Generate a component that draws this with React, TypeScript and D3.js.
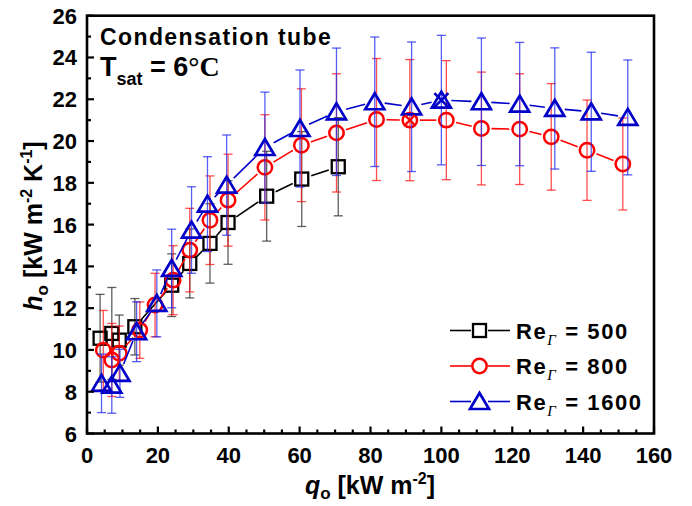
import React from 'react';
import * as d3 from 'd3';

const W = 692;
const H = 506;

// Re = 500
const q500 = [3.7, 7.0, 9.1, 13.5, 23.9, 29.0, 34.7, 39.8, 50.7, 60.6, 70.9];
const h500 = [10.56, 10.79, 10.47, 11.11, 13.1, 14.14, 15.1, 16.1, 17.36, 18.18, 18.77];
const e500 = [2.1, 2.2, 1.2, 1.35, 1.5, 1.65, 1.9, 2.0, 2.15, 2.27, 2.35];

// Re = 800
const q800 = [4.6, 7.0, 9.1, 14.9, 19.2, 24.3, 29.0, 34.7, 39.8, 50.2, 60.5, 70.4, 81.7, 91.1, 101.4, 111.3, 122.1, 131.0, 141.1, 151.2];
const h800 = [9.99, 9.52, 9.84, 10.95, 12.15, 13.34, 14.78, 16.21, 17.17, 18.74, 19.8, 20.39, 21.03, 21.0, 21.0, 20.6, 20.57, 20.2, 19.56, 18.9];
const e800 = [1.9, 1.75, 1.3, 1.35, 1.52, 1.65, 2.0, 2.12, 2.2, 2.52, 2.7, 2.83, 2.92, 2.9, 2.85, 2.7, 2.65, 2.55, 2.4, 2.2];

// Re = 1600
const q1600 = [4.1, 7.0, 9.3, 14.0, 19.7, 23.9, 29.5, 34.0, 39.4, 50.2, 60.1, 70.4, 81.2, 91.6, 100.0, 111.3, 122.1, 132.0, 142.3, 152.6];
const h1600 = [8.4, 8.32, 8.88, 10.87, 12.23, 13.9, 15.74, 16.98, 17.89, 19.69, 20.6, 21.4, 21.88, 21.64, 21.96, 21.88, 21.77, 21.56, 21.4, 21.13];
const e1600 = [1.4, 1.35, 1.15, 1.43, 1.6, 1.88, 2.07, 2.27, 2.4, 2.65, 2.8, 3.05, 3.1, 3.1, 3.1, 3.05, 2.95, 2.9, 2.85, 2.75];

// cross marks
const crossQ800 = [91.1];
const crossH800 = [21.0];
const crossQ1600 = [100.0];
const crossH1600 = [21.96];

const xTicks = [0, 20, 40, 60, 80, 100, 120, 140, 160];
const yTicks = [6, 8, 10, 12, 14, 16, 18, 20, 22, 24, 26];
const legendLabels = ['500', '800', '1600'];

const FONT = 'Arial, "Liberation Sans", Helvetica, sans-serif';
const SERIF = '"Liberation Serif", "Times New Roman", serif';

type Kind = 'square' | 'circle' | 'triangle';

function Marker({ kind, cx, cy, color }: { kind: Kind; cx: number; cy: number; color: string }) {
  if (kind === 'square') {
    const s = 13;
    return <rect x={cx - s / 2} y={cy - s / 2} width={s} height={s} fill="none" stroke={color} strokeWidth={2.3} />;
  }
  if (kind === 'circle') {
    return <circle cx={cx} cy={cy} r={7.2} fill="none" stroke={color} strokeWidth={2.5} />;
  }
  const pts = `${cx},${cy - 8.5} ${cx - 9.5},${cy + 7.5} ${cx + 9.5},${cy + 7.5}`;
  return <polygon points={pts} fill="none" stroke={color} strokeWidth={2.7} strokeLinejoin="miter" />;
}

export default function App() {
  const x = d3.scaleLinear().domain([0, 160]).range([87, 654]);
  const y = d3.scaleLinear().domain([6, 26]).range([433.5, 15.7]);
  const x0 = x(0), x1 = x(160), y0 = y(6), y1 = y(26);

  const series = [
    { q: q500, h: h500, e: e500, kind: 'square' as Kind, color: '#000000', bar: 'rgba(40,40,40,0.75)' },
    { q: q800, h: h800, e: e800, kind: 'circle' as Kind, color: '#ff0000', bar: 'rgba(255,20,20,0.75)' },
    { q: q1600, h: h1600, e: e1600, kind: 'triangle' as Kind, color: '#0000c8', bar: 'rgba(30,40,240,0.75)' },
  ];

  const gap = 10;
  const xMinor = d3.range(0, 161, 5);
  const yMinor = d3.range(6, 27, 1);

  return (
    <svg width={W} height={H} style={{ position: 'absolute', left: 0, top: 0, background: '#fff' }} fontFamily={FONT}>
      <rect x={0} y={0} width={W} height={H} fill="#fff" />
      {series.map((s, si) => {
        const pts = s.q.map((qv, i) => [x(qv), y(s.h[i])] as [number, number]);
        const segs: JSX.Element[] = [];
        for (let i = 0; i < pts.length - 1; i++) {
          const [ax, ay] = pts[i];
          const [bx, by] = pts[i + 1];
          const dx = bx - ax, dy = by - ay;
          const d = Math.hypot(dx, dy);
          if (d > 2 * gap + 1) {
            const ux = dx / d, uy = dy / d;
            segs.push(
              <line key={'l' + i} x1={ax + ux * gap} y1={ay + uy * gap} x2={bx - ux * gap} y2={by - uy * gap}
                stroke={s.color} strokeWidth={1.6} />
            );
          }
        }
        return (
          <g key={si}>
            {s.q.map((qv, i) => {
              const cx = x(qv);
              const yt = y(s.h[i] + s.e[i]);
              const yb = y(s.h[i] - s.e[i]);
              return (
                <g key={'e' + i} stroke={s.bar} strokeWidth={1.3}>
                  <line x1={cx} x2={cx} y1={yt} y2={yb} />
                  <line x1={cx - 4.5} x2={cx + 4.5} y1={yt} y2={yt} />
                  <line x1={cx - 4.5} x2={cx + 4.5} y1={yb} y2={yb} />
                </g>
              );
            })}
            {segs}
            {pts.map(([px, py], i) => (
              <Marker key={'m' + i} kind={s.kind} cx={px} cy={py} color={s.color} />
            ))}
          </g>
        );
      })}
      {crossQ800.map((qv, i) => {
        const cx = x(qv), cy = y(crossH800[i]);
        return (
          <g key={'cr' + i} stroke="#ff0000" strokeWidth={2.2}>
            <line x1={cx - 5} y1={cy - 5} x2={cx + 5} y2={cy + 5} />
            <line x1={cx - 5} y1={cy + 5} x2={cx + 5} y2={cy - 5} />
          </g>
        );
      })}
      {crossQ1600.map((qv, i) => {
        const cx = x(qv), cy = y(crossH1600[i]);
        return (
          <g key={'cb' + i} stroke="#0000c8" strokeWidth={2.6}>
            <line x1={cx - 7} y1={cy - 7} x2={cx + 7} y2={cy + 7} />
            <line x1={cx - 7} y1={cy + 7} x2={cx + 7} y2={cy - 7} />
          </g>
        );
      })}

      {/* frame */}
      <rect x={x0} y={y1} width={x1 - x0} height={y0 - y1} fill="none" stroke="#000" strokeWidth={2.6} />
      {/* ticks */}
      {xMinor.map((t) => {
        const major = t % 20 === 0;
        return <line key={'xt' + t} x1={x(t)} x2={x(t)} y1={y0} y2={y0 - (major ? 7 : 4)} stroke="#000" strokeWidth={2.2} />;
      })}
      {yMinor.map((t) => {
        const major = t % 2 === 0;
        return <line key={'yt' + t} x1={x0} x2={x0 + (major ? 7 : 4)} y1={y(t)} y2={y(t)} stroke="#000" strokeWidth={2.2} />;
      })}
      {xTicks.map((t) => (
        <text key={'xl' + t} x={x(t)} y={463} textAnchor="middle" fontSize={22} fontWeight="bold" fill="#000">{t}</text>
      ))}
      {yTicks.map((t) => (
        <text key={'yl' + t} x={77} y={y(t) + 8} textAnchor="end" fontSize={22} fontWeight="bold" fill="#000">{t}</text>
      ))}

      {/* axis titles */}
      <text x={370} y={494} textAnchor="middle" fontSize={25} fontWeight="bold" fill="#000">
        <tspan fontStyle="italic">q</tspan>
        <tspan fontSize={17} dy={5}>o</tspan>
        <tspan dy={-5}> [kW m</tspan>
        <tspan fontSize={16} dy={-10}>-2</tspan>
        <tspan dy={10}>]</tspan>
      </text>
      <text transform="translate(42,226) rotate(-90)" textAnchor="middle" fontSize={25} fontWeight="bold" fill="#000">
        <tspan fontStyle="italic">h</tspan>
        <tspan fontSize={17} dy={6}>o</tspan>
        <tspan dy={-6}> [kW m</tspan>
        <tspan fontSize={16} dy={-10}>-2</tspan>
        <tspan dy={10}> K</tspan>
        <tspan fontSize={16} dy={-10}>-1</tspan>
        <tspan dy={10}>]</tspan>
      </text>

      {/* annotation */}
      <text x={100} y={44.5} fontSize={23} fontWeight="bold" letterSpacing={1.4} fill="#000">Condensation tube</text>
      <text x={100} y={76} fontSize={27} fontWeight="bold" fill="#000">
        <tspan>T</tspan>
        <tspan fontSize={18} dy={9}>sat</tspan>
        <tspan dy={-9}> = 6</tspan>
        <tspan fontFamily={SERIF} fontSize={28}>°C</tspan>
      </text>

      {/* legend */}
      {series.map((s, i) => {
        const cy = 330.5 + i * 35.5;
        return (
          <g key={'lg' + i}>
            <line x1={450} x2={471} y1={cy} y2={cy} stroke={s.color} strokeWidth={1.6} />
            <line x1={488} x2={510} y1={cy} y2={cy} stroke={s.color} strokeWidth={1.6} />
            <Marker kind={s.kind} cx={479.5} cy={cy} color={s.color} />
            <text x={516} y={cy + 8} fontSize={22} fontWeight="bold" letterSpacing={1.6} fill="#000">
              <tspan>Re</tspan>
              <tspan fontSize={15} fontWeight="normal" fontStyle="italic" fontFamily={SERIF} dy={6}>Γ</tspan>
              <tspan dy={-6}> = {legendLabels[i]}</tspan>
            </text>
          </g>
        );
      })}
    </svg>
  );
}
